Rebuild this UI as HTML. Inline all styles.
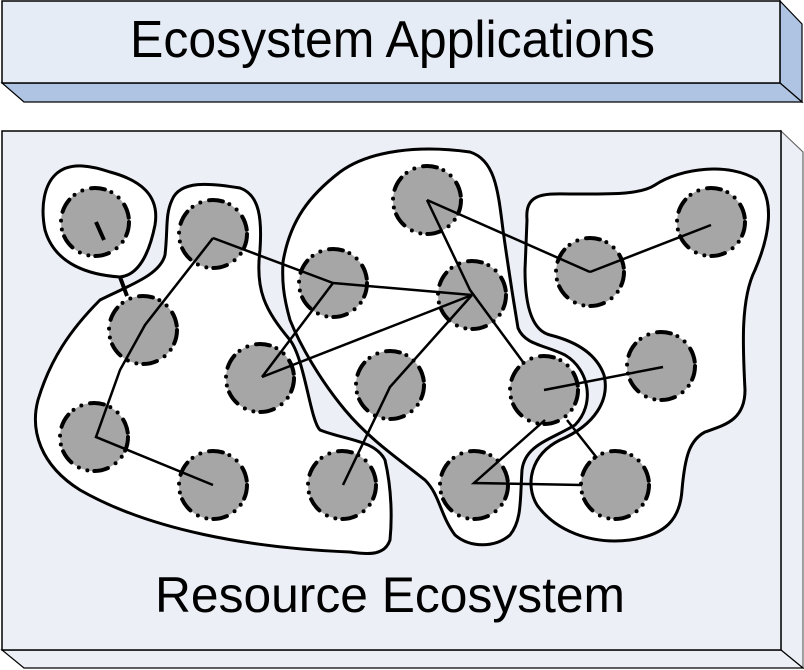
<!DOCTYPE html>
<html><head><meta charset="utf-8"><style>
html,body{margin:0;padding:0;background:#fff;}
svg{display:block;}
</style></head><body>
<svg width="804" height="670" viewBox="0 0 804 670" xmlns="http://www.w3.org/2000/svg">
<!-- top box -->
<polygon points="780,1 802,24 802,102 780,83" fill="#aec4e2" stroke="#000" stroke-width="1.2"/>
<polygon points="2,83 780,83 802,102 24,102" fill="#aec4e2" stroke="#000" stroke-width="1.2"/>
<rect x="2" y="1" width="778" height="82" fill="#e6ecf6" stroke="#000" stroke-width="1.5"/>
<text x="130" y="57" font-family="Liberation Sans, sans-serif" font-size="52" textLength="525" lengthAdjust="spacingAndGlyphs" fill="#000">Ecosystem Applications</text>
<!-- bottom box -->
<polygon points="781,131 803,152 803,668 781,650" fill="#eceff5" stroke="#666" stroke-width="1.2"/>
<polygon points="2,650 781,650 803,668 24,668" fill="#eceff5" stroke="#000" stroke-width="1.2"/>
<rect x="2" y="131" width="779" height="519" fill="#eceff5" stroke="#000" stroke-width="1.5"/>
<text x="155" y="612" font-family="Liberation Sans, sans-serif" font-size="50" textLength="470" lengthAdjust="spacingAndGlyphs" fill="#000">Resource Ecosystem</text>

<g fill="#fff" stroke="#000" stroke-width="3">
<path d="M55 175 C70 160 95 167 110 172 C140 180 160 195 155 225 C150 250 140 275 120 277 C90 275 55 265 45 230 C40 205 45 185 55 175 Z"/>
<path d="M172 200 C180 180 210 183 240 188 C260 195 262 220 260 250 C255 290 265 310 290 340 C305 360 310 420 320 430 C345 440 375 440 385 460 C392 490 392 520 390 540 C385 555 370 555 350 552 C250 548 150 530 80 490 C40 465 30 430 38 400 C50 360 70 330 100 300 C130 285 160 275 165 255 C168 230 165 215 172 200 Z"/>
<path d="M283 262 C290 220 310 195 340 172 C370 150 420 145 470 152 C495 160 498 190 503 230 C510 280 515 310 518 328 C525 345 545 345 565 355 C590 370 595 405 575 425 C550 440 525 445 522 470 C520 500 522 520 510 535 C495 548 470 548 455 535 C440 515 440 495 425 480 C400 460 370 440 345 410 C320 380 300 345 290 320 C283 295 282 280 283 262 Z"/>
<path d="M527 220 C525 195 540 193 570 194 C610 194 640 195 655 185 C680 168 730 162 757 180 C775 200 770 235 755 270 C740 300 743 350 745 390 C745 420 725 425 705 432 C690 440 685 455 682 490 C680 520 665 535 630 540 C590 545 555 530 537 505 C525 485 530 455 560 440 C595 425 610 400 604 375 C595 350 570 340 550 335 C530 330 525 300 525 270 Z"/>
</g>

<g fill="#a6a6a6" stroke="#000" stroke-width="4" stroke-linecap="round" stroke-dasharray="14 7 0 9 0 9">
<circle cx="95" cy="222" r="34"/>
<circle cx="213" cy="234" r="34"/>
<circle cx="143" cy="330" r="34"/>
<circle cx="260" cy="378" r="34"/>
<circle cx="94" cy="437" r="34"/>
<circle cx="213" cy="485" r="34"/>
<circle cx="333" cy="283" r="34"/>
<circle cx="390" cy="385" r="34"/>
<circle cx="342" cy="485" r="34"/>
<circle cx="427" cy="200" r="34"/>
<circle cx="472" cy="295" r="34"/>
<circle cx="544" cy="390" r="34"/>
<circle cx="474" cy="485" r="34"/>
<circle cx="590" cy="272" r="34"/>
<circle cx="711" cy="222" r="34"/>
<circle cx="661" cy="366" r="34"/>
<circle cx="615" cy="485" r="34"/>
</g>

<g stroke="#000" stroke-width="2.5" fill="none">
<line x1="120" y1="277" x2="127" y2="296" stroke-width="4"/>
<line x1="96" y1="222" x2="104" y2="240" stroke-width="4"/>
<polyline points="213,238 145,325 120,370 96,437 213,485"/>
<line x1="213" y1="238" x2="333" y2="283"/>
<line x1="333" y1="283" x2="472" y2="295"/>
<line x1="333" y1="283" x2="262" y2="377"/>
<line x1="262" y1="377" x2="472" y2="295"/>
<polyline points="472,295 390,387 343,485"/>
<polyline points="427,200 470,290 523,362"/>
<line x1="427" y1="200" x2="590" y2="272"/>
<line x1="590" y1="272" x2="711" y2="225"/>
<line x1="544" y1="390" x2="663" y2="367"/>
<polyline points="545,420 474,483 582,485"/>
<line x1="567" y1="420" x2="597" y2="458"/>
</g>
</svg>
</body></html>
